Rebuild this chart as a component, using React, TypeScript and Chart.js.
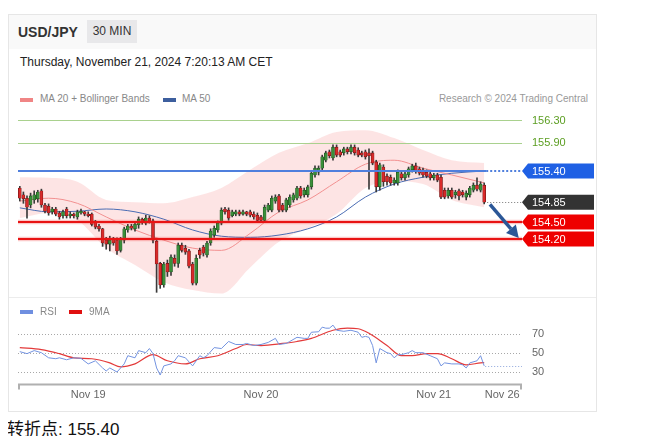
import React, { useEffect, useRef } from 'react';
import { Chart, registerables } from 'chart.js';

Chart.register(...registerables);

const FONT = "'Liberation Sans', Arial, Helvetica, sans-serif";

// ---- 30-minute candles (USD/JPY) ----
const opens = [
  155.10, 154.98, 154.92, 154.80, 154.89, 154.91, 155.05, 154.80, 154.78, 154.68,
  154.73, 154.66, 154.61, 154.73, 154.61, 154.64, 154.59, 154.66, 154.68, 154.64,
  154.64, 154.50, 154.43, 154.38, 154.18, 154.11, 154.20, 154.18, 154.00, 154.18,
  154.36, 154.43, 154.38, 154.45, 154.55, 154.48, 154.57, 154.52, 154.16, 153.77,
  153.39, 153.77, 153.62, 153.86, 153.77, 154.09, 154.04, 153.99, 153.76, 153.42,
  154.00, 154.06, 153.92, 154.13, 154.27, 154.36, 154.48, 154.73, 154.71, 154.61,
  154.64, 154.68, 154.64, 154.68, 154.68, 154.64, 154.62, 154.59, 154.53, 154.71,
  154.71, 154.87, 154.96, 154.80, 154.71, 154.80, 154.89, 154.92, 155.10, 154.98,
  154.98, 155.12, 155.33, 155.38, 155.45, 155.59, 155.74, 155.63, 155.82, 155.74,
  155.72, 155.79, 155.74, 155.82, 155.77, 155.72, 155.74, 155.72, 155.72, 155.56,
  155.12, 155.47, 155.31, 155.29, 155.19, 155.19, 155.35, 155.28, 155.33, 155.42,
  155.49, 155.44, 155.42, 155.38, 155.35, 155.28, 155.33, 155.29, 155.06, 154.96,
  155.06, 154.98, 155.05, 155.03, 154.94, 154.98, 155.06, 155.15, 155.06, 155.15,
];
const highs = [
  155.13, 155.03, 154.96, 155.01, 155.05, 155.06, 155.08, 154.83, 154.82, 154.76,
  154.76, 154.69, 154.71, 154.76, 154.68, 154.66, 154.71, 154.73, 154.69, 154.68,
  154.66, 154.53, 154.46, 154.39, 154.23, 154.25, 154.23, 154.22, 154.23, 154.41,
  154.46, 154.46, 154.50, 154.59, 154.57, 154.62, 154.61, 154.55, 154.18, 153.79,
  153.79, 153.83, 153.92, 153.92, 154.13, 154.13, 154.09, 154.02, 153.79, 153.92,
  154.04, 154.09, 154.16, 154.38, 154.43, 154.52, 154.75, 154.76, 154.75, 154.71,
  154.71, 154.71, 154.71, 154.69, 154.71, 154.68, 154.66, 154.62, 154.80, 154.83,
  154.96, 154.98, 154.99, 154.83, 154.92, 154.98, 155.01, 155.13, 155.13, 155.10,
  155.15, 155.40, 155.49, 155.49, 155.68, 155.75, 155.77, 155.86, 155.86, 155.77,
  155.82, 155.82, 155.86, 155.86, 155.81, 155.75, 155.77, 155.79, 155.75, 155.59,
  155.54, 155.51, 155.35, 155.33, 155.28, 155.42, 155.38, 155.38, 155.47, 155.52,
  155.54, 155.47, 155.45, 155.42, 155.38, 155.36, 155.36, 155.33, 155.10, 155.10,
  155.10, 155.06, 155.08, 155.06, 155.05, 155.13, 155.19, 155.28, 155.21, 155.19,
];
const lows = [
  154.87, 154.83, 154.57, 154.75, 154.83, 154.85, 154.76, 154.66, 154.62, 154.64,
  154.61, 154.55, 154.57, 154.57, 154.57, 154.57, 154.55, 154.64, 154.61, 154.59,
  154.43, 154.38, 154.34, 154.07, 154.02, 153.99, 154.09, 153.93, 153.97, 154.13,
  154.32, 154.36, 154.34, 154.39, 154.46, 154.45, 154.48, 154.13, 153.26, 153.33,
  153.35, 153.54, 153.56, 153.72, 153.70, 153.97, 153.93, 153.69, 153.39, 153.39,
  153.86, 153.90, 153.88, 154.09, 154.23, 154.32, 154.45, 154.64, 154.53, 154.59,
  154.61, 154.61, 154.62, 154.61, 154.59, 154.55, 154.50, 154.50, 154.50, 154.68,
  154.68, 154.83, 154.68, 154.68, 154.68, 154.76, 154.85, 154.89, 154.92, 154.94,
  154.94, 155.08, 155.29, 155.33, 155.42, 155.56, 155.63, 155.59, 155.65, 155.65,
  155.68, 155.70, 155.70, 155.68, 155.65, 155.65, 155.61, 155.08, 155.51, 155.03,
  155.06, 155.13, 155.15, 155.15, 155.15, 155.15, 155.24, 155.24, 155.29, 155.38,
  155.36, 155.33, 155.29, 155.28, 155.24, 155.24, 155.21, 154.91, 154.91, 154.92,
  154.91, 154.92, 154.89, 154.94, 154.89, 154.94, 155.03, 155.05, 155.03, 154.82,
];
const closes = [
  154.92, 154.91, 154.76, 154.96, 154.98, 155.03, 154.80, 154.69, 154.66, 154.73,
  154.64, 154.59, 154.68, 154.61, 154.64, 154.61, 154.68, 154.69, 154.64, 154.61,
  154.46, 154.41, 154.38, 154.13, 154.11, 154.18, 154.13, 153.99, 154.20, 154.38,
  154.43, 154.39, 154.46, 154.55, 154.50, 154.57, 154.52, 154.18, 153.76, 153.39,
  153.76, 153.62, 153.88, 153.77, 154.09, 154.00, 153.97, 153.72, 153.42, 153.86,
  153.92, 153.95, 154.13, 154.34, 154.39, 154.48, 154.71, 154.68, 154.57, 154.68,
  154.68, 154.64, 154.68, 154.64, 154.62, 154.59, 154.53, 154.53, 154.76, 154.80,
  154.92, 154.94, 154.71, 154.71, 154.89, 154.94, 154.98, 155.10, 154.96, 155.06,
  155.12, 155.36, 155.45, 155.45, 155.65, 155.72, 155.67, 155.82, 155.68, 155.68,
  155.79, 155.74, 155.82, 155.72, 155.68, 155.68, 155.65, 155.67, 155.54, 155.12,
  155.51, 155.21, 155.21, 155.19, 155.24, 155.38, 155.28, 155.35, 155.44, 155.49,
  155.40, 155.36, 155.33, 155.31, 155.28, 155.33, 155.24, 154.94, 154.94, 155.06,
  154.94, 155.03, 154.96, 154.98, 155.01, 155.10, 155.15, 155.08, 155.17, 154.85,
];

// ---- indicators (sampled bar index -> value) ----
const bandIdx = [0, 8, 16, 24, 32, 40, 48, 56, 64, 72, 80, 88, 96, 104, 112, 120, 129];
const bbUpper = [155.29, 155.28, 155.21, 154.89, 154.85, 154.83, 154.94, 155.10, 155.42, 155.72, 155.89, 156.09, 156.12, 155.98, 155.77, 155.59, 155.54];
const ma20 = [154.87, 154.92, 154.83, 154.59, 154.36, 154.18, 154.04, 154.00, 154.30, 154.68, 154.89, 155.21, 155.52, 155.59, 155.45, 155.33, 155.19];
const bbLower = [154.57, 154.66, 154.53, 154.04, 153.74, 153.44, 153.30, 153.24, 153.70, 154.15, 154.39, 154.64, 155.10, 155.22, 155.17, 154.89, 154.76];
const ma50 = [154.75, 154.68, 154.69, 154.73, 154.68, 154.55, 154.36, 154.25, 154.23, 154.27, 154.38, 154.59, 154.94, 155.17, 155.29, 155.36, 155.40];

const rsiIdx = [0, 2, 4, 6, 8, 10, 11, 13, 15, 17, 19, 21, 23, 24, 25, 27, 29, 30, 32, 33, 35, 36, 37, 38, 39, 40, 42, 43, 44, 46, 48, 50, 51, 52, 54, 56, 58, 60, 62, 63, 65, 67, 69, 71, 72, 74, 75, 77, 79, 80, 81, 83, 84, 85, 86, 87, 88, 90, 92, 94, 95, 96, 97, 98, 99, 100, 102, 103, 104, 105, 106, 108, 109, 110, 112, 114, 116, 117, 118, 120, 122, 123, 124, 125, 127, 128, 129];
const rsiVal = [51.6, 49.5, 52.7, 50.5, 45.1, 44.1, 45.1, 43.0, 45.1, 44.5, 38.6, 41.9, 34.3, 31.1, 34.3, 30.0, 38.6, 47.3, 45.1, 52.7, 50.5, 54.9, 49.5, 34.3, 26.8, 36.5, 38.6, 41.9, 47.3, 45.1, 36.5, 47.3, 45.1, 47.3, 55.9, 54.9, 62.4, 59.2, 59.2, 60.3, 58.1, 59.2, 61.4, 65.7, 59.2, 60.3, 62.4, 66.8, 65.7, 65.7, 72.2, 72.7, 77.6, 76.5, 76.5, 79.7, 74.3, 73.2, 74.3, 72.2, 66.8, 67.8, 66.8, 58.1, 39.7, 54.9, 50.5, 49.5, 45.1, 48.4, 48.4, 50.5, 52.7, 50.5, 50.5, 47.3, 44.1, 36.5, 39.7, 38.6, 38.6, 37.6, 34.3, 39.7, 41.9, 47.3, 36.5];
const ma9Idx = [0, 6, 11, 15, 20, 25, 28, 32, 37, 41, 46, 50, 55, 60, 63, 67, 73, 77, 81, 87, 91, 94, 97, 102, 106, 109, 113, 116, 120, 124, 128, 129];
const ma9Val = [55.9, 53.8, 49.5, 45.1, 44.1, 39.7, 35.4, 38.6, 48.4, 41.9, 38.6, 44.1, 47.3, 54.9, 59.2, 58.1, 60.3, 62.4, 65.7, 74.3, 76.5, 75.9, 71.1, 58.1, 47.3, 47.3, 49.5, 49.5, 44.1, 37.6, 39.7, 40.0];

// ---- levels / labels ----
const levelValues = [156.3, 155.9, 155.4, 154.5, 154.2];
const levelTypes = ['resistance', 'resistance', 'pivot', 'support', 'support'];
const lastPrice = 154.85;
const lastRsi = 36.5;
const rsiLevels = [70, 50, 30];
const dateTickIdx = [19, 67, 115, 134];
const dateTickLabels = ['Nov 19', 'Nov 20', 'Nov 21', 'Nov 26'];
const arrowFrom = [130.6, 154.81];
const arrowTo = [138.6, 154.22];

const X_MIN = -0.5;
const X_MAX = 139.5;

function drawTag(ctx: CanvasRenderingContext2D, xTip: number, y: number, color: string, text: string) {
  const h = 15;
  const bx = xTip + 6;
  const right = xTip + 72;
  ctx.beginPath();
  ctx.moveTo(xTip, y);
  ctx.lineTo(bx, y - h / 2);
  ctx.lineTo(right, y - h / 2);
  ctx.lineTo(right, y + h / 2);
  ctx.lineTo(bx, y + h / 2);
  ctx.closePath();
  ctx.fillStyle = color;
  ctx.fill();
  ctx.fillStyle = '#fff';
  ctx.font = `11px ${FONT}`;
  ctx.textBaseline = 'middle';
  ctx.textAlign = 'left';
  ctx.fillText(text, xTip + 10, y + 0.5);
}

const mainOverlay = {
  id: 'mainOverlay',
  afterDatasetsDraw(chart: any) {
    const { ctx, chartArea: ca, scales } = chart;
    const x = scales.x;
    const y = scales.y;
    const lastX = x.getPixelForValue(closes.length - 1) + 2;
    ctx.save();
    levelValues.forEach((v, k) => {
      const t = levelTypes[k];
      if (t === 'resistance') {
        const py = Math.round(y.getPixelForValue(v)) + 0.5;
        ctx.strokeStyle = '#a9d18e';
        ctx.lineWidth = 1;
        ctx.setLineDash([]);
        ctx.beginPath(); ctx.moveTo(ca.left, py); ctx.lineTo(ca.right, py); ctx.stroke();
      } else if (t === 'pivot') {
        const py = Math.round(y.getPixelForValue(v));
        ctx.strokeStyle = '#4f7fdd';
        ctx.lineWidth = 2;
        ctx.setLineDash([]);
        ctx.beginPath(); ctx.moveTo(ca.left, py); ctx.lineTo(lastX, py); ctx.stroke();
        ctx.setLineDash([2, 2]);
        ctx.beginPath(); ctx.moveTo(lastX, py); ctx.lineTo(ca.right, py); ctx.stroke();
      } else {
        const py = Math.round(y.getPixelForValue(v));
        ctx.setLineDash([]);
        ctx.strokeStyle = 'rgba(240,40,40,0.25)';
        ctx.lineWidth = 4.5;
        ctx.beginPath(); ctx.moveTo(ca.left, py); ctx.lineTo(ca.right, py); ctx.stroke();
        ctx.strokeStyle = '#e81414';
        ctx.lineWidth = 2;
        ctx.beginPath(); ctx.moveTo(ca.left, py); ctx.lineTo(ca.right, py); ctx.stroke();
      }
    });
    // current price dotted
    const pp = Math.round(y.getPixelForValue(lastPrice)) + 0.5;
    ctx.strokeStyle = '#777';
    ctx.lineWidth = 1;
    ctx.setLineDash([1, 2]);
    ctx.beginPath(); ctx.moveTo(lastX + 1, pp); ctx.lineTo(ca.right, pp); ctx.stroke();
    ctx.setLineDash([]);
    // arrow
    const x1 = x.getPixelForValue(arrowFrom[0]);
    const y1 = y.getPixelForValue(arrowFrom[1]);
    const x2 = x.getPixelForValue(arrowTo[0]);
    const y2 = y.getPixelForValue(arrowTo[1]);
    const ang = Math.atan2(y2 - y1, x2 - x1);
    const headLen = 12;
    const hw = 6.5;
    const bxp = x2 - headLen * Math.cos(ang);
    const byp = y2 - headLen * Math.sin(ang);
    ctx.strokeStyle = '#2b5797';
    ctx.fillStyle = '#2b5797';
    ctx.lineWidth = 3.5;
    ctx.lineCap = 'butt';
    ctx.beginPath(); ctx.moveTo(x1, y1); ctx.lineTo(bxp, byp); ctx.stroke();
    ctx.beginPath();
    ctx.moveTo(x2, y2);
    ctx.lineTo(bxp + hw * Math.sin(ang), byp - hw * Math.cos(ang));
    ctx.lineTo(bxp - hw * Math.sin(ang), byp + hw * Math.cos(ang));
    ctx.closePath();
    ctx.fill();
    ctx.restore();
  },
  afterDraw(chart: any) {
    const { ctx, chartArea: ca, scales } = chart;
    const y = scales.y;
    ctx.save();
    levelValues.forEach((v, k) => {
      const py = y.getPixelForValue(v);
      const t = levelTypes[k];
      if (t === 'resistance') {
        ctx.fillStyle = '#5c9e22';
        ctx.font = `11px ${FONT}`;
        ctx.textBaseline = 'middle';
        ctx.textAlign = 'left';
        ctx.fillText(v.toFixed(2), ca.right + 10, py + 0.5);
      } else if (t === 'pivot') {
        drawTag(ctx, ca.right, py, '#1f60e4', v.toFixed(2));
      } else {
        drawTag(ctx, ca.right, py, '#ee0000', v.toFixed(2));
      }
    });
    drawTag(ctx, ca.right, y.getPixelForValue(lastPrice), '#333333', lastPrice.toFixed(2));
    ctx.restore();
  },
};

const rsiOverlay = {
  id: 'rsiOverlay',
  afterDatasetsDraw(chart: any) {
    const { ctx, chartArea: ca, scales } = chart;
    const x = scales.x;
    const y = scales.y;
    ctx.save();
    const lastX = x.getPixelForValue(closes.length - 1) + 1;
    const py = Math.round(y.getPixelForValue(lastRsi)) + 0.5;
    ctx.strokeStyle = '#8ea6dc';
    ctx.lineWidth = 1;
    ctx.setLineDash([1, 2]);
    ctx.beginPath(); ctx.moveTo(lastX, py); ctx.lineTo(ca.right, py); ctx.stroke();
    ctx.setLineDash([]);
    // axis line with end ticks
    const by = Math.round(ca.bottom) + 0.5;
    ctx.strokeStyle = '#b0b0b0';
    ctx.lineWidth = 2;
    ctx.beginPath(); ctx.moveTo(ca.left, by); ctx.lineTo(ca.right, by); ctx.stroke();
    ctx.beginPath();
    ctx.moveTo(ca.left + 1, by); ctx.lineTo(ca.left + 1, by + 5);
    ctx.moveTo(ca.right - 1, by); ctx.lineTo(ca.right - 1, by + 5);
    ctx.stroke();
    ctx.restore();
  },
};

export default function App() {
  const mainRef = useRef<HTMLCanvasElement>(null);
  const rsiRef = useRef<HTMLCanvasElement>(null);

  useEffect(() => {
    Chart.defaults.font.family = FONT;
    const pts = (idx: number[], vals: number[]) => idx.map((i, k) => ({ x: i, y: vals[k] }));
    const up = closes.map((c, i) => c >= opens[i]);

    const main = new Chart(mainRef.current as HTMLCanvasElement, {
      type: 'bar',
      data: {
        datasets: [
          {
            type: 'line', label: 'BB upper', data: pts(bandIdx, bbUpper),
            borderColor: 'transparent', borderWidth: 1, pointRadius: 0,
            fill: '+1', backgroundColor: 'rgba(248,150,150,0.26)',
            cubicInterpolationMode: 'monotone', order: 10,
          } as any,
          {
            type: 'line', label: 'BB lower', data: pts(bandIdx, bbLower),
            borderColor: 'transparent', borderWidth: 1, pointRadius: 0, fill: false,
            cubicInterpolationMode: 'monotone', order: 10,
          } as any,
          {
            type: 'line', label: 'MA 20', data: pts(bandIdx, ma20),
            borderColor: '#f29090', borderWidth: 1, pointRadius: 0, fill: false,
            cubicInterpolationMode: 'monotone', order: 5,
          } as any,
          {
            type: 'line', label: 'MA 50', data: pts(bandIdx, ma50),
            borderColor: '#4a6cb3', borderWidth: 1, pointRadius: 0, fill: false,
            cubicInterpolationMode: 'monotone', order: 5,
          } as any,
          {
            type: 'bar', label: 'wicks',
            data: closes.map((_, i) => ({ x: i, y: [lows[i], highs[i]] })),
            backgroundColor: '#3a3a3a', barThickness: 1, grouped: false, order: 2,
          } as any,
          {
            type: 'bar', label: 'bodies',
            data: closes.map((c, i) => ({ x: i, y: [opens[i], c] })),
            backgroundColor: up.map((u) => (u ? '#3a8f3a' : '#d92a2a')),
            borderColor: up.map((u) => (u ? '#1f4f1f' : '#6a1515')),
            borderWidth: 0.6, borderSkipped: false,
            barThickness: 3, grouped: false, order: 1,
          } as any,
        ],
      },
      options: {
        responsive: false,
        animation: false,
        events: [],
        layout: { padding: { left: 10, right: 74, top: 0, bottom: 0 } },
        plugins: { legend: { display: false }, tooltip: { enabled: false } },
        scales: {
          x: { type: 'linear', min: X_MIN, max: X_MAX, offset: false, display: false },
          y: { type: 'linear', min: 153.16, max: 156.476, display: false },
        },
      },
      plugins: [mainOverlay],
    } as any);

    const rsi = new Chart(rsiRef.current as HTMLCanvasElement, {
      type: 'line',
      data: {
        datasets: [
          {
            label: 'RSI', data: pts(rsiIdx, rsiVal), borderColor: '#7393e0',
            borderWidth: 1, pointRadius: 0, tension: 0, fill: false,
          },
          {
            label: '9MA', data: pts(ma9Idx, ma9Val), borderColor: '#e33a3a',
            borderWidth: 1.2, pointRadius: 0, cubicInterpolationMode: 'monotone', fill: false,
          },
        ],
      },
      options: {
        responsive: false,
        animation: false,
        events: [],
        layout: { padding: { left: 10, right: 0, top: 2, bottom: 0 } },
        plugins: { legend: { display: false }, tooltip: { enabled: false } },
        scales: {
          x: {
            type: 'linear', min: X_MIN, max: X_MAX, offset: false,
            grid: { display: false, drawTicks: false },
            border: { display: false },
            ticks: {
              padding: 5, color: '#666', font: { size: 11, family: FONT },
              maxRotation: 0, autoSkip: false,
              callback: (_v: any, i: number) => dateTickLabels[i],
            },
            afterBuildTicks: (s: any) => { s.ticks = dateTickIdx.map((v) => ({ value: v })); },
            afterFit: (s: any) => { s.paddingLeft = 0; s.paddingRight = 0; },
          },
          y: {
            type: 'linear', position: 'right', min: 17.5, max: 87.3,
            grid: { color: '#a8a8a8', drawTicks: false, lineWidth: 1 },
            border: { display: false, dash: [1, 2] },
            ticks: { padding: 10, color: '#666', font: { size: 11, family: FONT } },
            afterBuildTicks: (s: any) => { s.ticks = rsiLevels.map((v) => ({ value: v })); },
            afterFit: (s: any) => { s.width = 74; s.paddingTop = 0; s.paddingBottom = 0; },
          },
        },
      },
      plugins: [rsiOverlay],
    } as any);

    return () => { main.destroy(); rsi.destroy(); };
  }, []);

  const abs = (o: React.CSSProperties): React.CSSProperties => ({ position: 'absolute', whiteSpace: 'nowrap', ...o });

  return (
    <div style={{ position: 'relative', width: 640, height: 428, fontFamily: FONT }}>
      <div style={abs({ left: 0, top: 6, width: 589, height: 398, border: '1px solid #e6e6e6', boxSizing: 'border-box', background: '#fff' })} />
      <div style={abs({ left: 1, top: 7, width: 587, height: 34, background: '#f9f9f9' })} />
      <div style={abs({ left: 10, top: 16, fontSize: 14, lineHeight: '16px', fontWeight: 'bold', color: '#333' })}>USD/JPY</div>
      <div style={abs({ left: 79, top: 12, width: 50, height: 23, lineHeight: '23px', background: '#e8e8ea', color: '#333', fontSize: 12, textAlign: 'center' })}>30 MIN</div>
      <div style={abs({ left: 12, top: 47, fontSize: 12, lineHeight: '14px', color: '#222' })}>Thursday, November 21, 2024 7:20:13 AM CET</div>

      <div style={abs({ left: 12, top: 89.5, width: 13, height: 4, background: '#f08585' })} />
      <div style={abs({ left: 32, top: 85, fontSize: 10, lineHeight: '12px', color: '#888' })}>MA 20 + Bollinger Bands</div>
      <div style={abs({ left: 155, top: 89.5, width: 13, height: 4, background: '#3d5f9e' })} />
      <div style={abs({ left: 174, top: 85, fontSize: 10, lineHeight: '12px', color: '#888' })}>MA 50</div>
      <div style={abs({ right: 60, top: 85, fontSize: 10, lineHeight: '12px', color: '#999' })}>Research © 2024 Trading Central</div>

      <canvas ref={mainRef} width={588} height={188} style={abs({ left: 0, top: 102, width: 588, height: 188 })} />
      <div style={abs({ left: 1, top: 289, width: 587, height: 1, background: '#ececec' })} />

      <div style={abs({ left: 12, top: 302, width: 13, height: 4, background: '#6f8fe0' })} />
      <div style={abs({ left: 32, top: 298, fontSize: 10, lineHeight: '12px', color: '#888' })}>RSI</div>
      <div style={abs({ left: 61, top: 302, width: 13, height: 4, background: '#e01010' })} />
      <div style={abs({ left: 81, top: 298, fontSize: 10, lineHeight: '12px', color: '#888' })}>9MA</div>

      <canvas ref={rsiRef} width={588} height={91} style={abs({ left: 0, top: 308, width: 588, height: 91 })} />

      <div style={abs({ left: -1, top: 412, fontSize: 17, lineHeight: '20px', color: '#111', fontFamily: "'Liberation Sans', Arial, 'Noto Sans CJK SC', sans-serif" })}>转折点: 155.40</div>
    </div>
  );
}
